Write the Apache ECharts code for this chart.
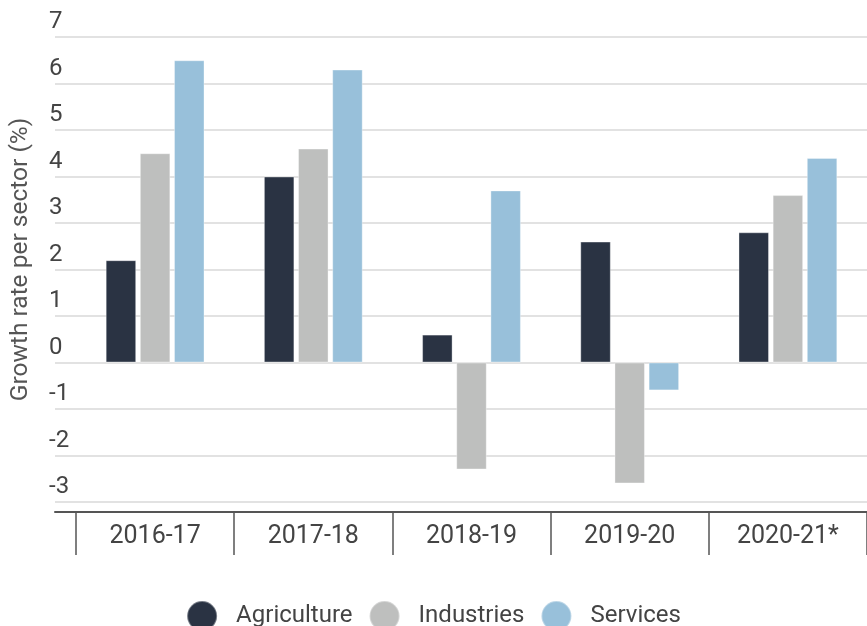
<!DOCTYPE html>
<html>
<head>
<meta charset="utf-8">
<script src="https://cdn.jsdelivr.net/npm/echarts@6/dist/echarts.min.js"></script>
<style>
  html, body { margin: 0; padding: 0; background: #ffffff; }
  #chart { width: 867px; height: 626px; }
</style>
</head>
<body>
<div id="chart"></div>
<script>
// Annual growth rate per sector, in percent
const years = ['2016-17', '2017-18', '2018-19', '2019-20', '2020-21*'];
const agriculture = [2.2, 4.0, 0.6, 2.6, 2.8];
const industries = [4.5, 4.6, -2.3, -2.6, 3.6];
const services = [6.5, 6.3, 3.7, -0.6, 4.4];
const yTicks = { min: -3, max: 7, step: 1 };

const FONT = 'Roboto, "Noto Sans", sans-serif';
const colors = { agriculture: '#2a3343', industries: '#bebfbe', services: '#98c0da' };

const chart = echarts.init(document.getElementById('chart'), null, { renderer: 'canvas' });

function barSeries(name, data, color) {
  return {
    name: name,
    type: 'bar',
    xAxisIndex: 1,
    yAxisIndex: 1,
    data: data,
    barWidth: 30.5,
    barGap: '12%',
    itemStyle: { color: color, borderColor: 'rgba(255,255,255,0.35)', borderWidth: 1 }
  };
}

chart.setOption({
  animation: false,
  textStyle: { fontFamily: FONT },
  legend: {
    data: ['Agriculture', 'Industries', 'Services'],
    bottom: -11,
    left: 'center',
    icon: 'circle',
    itemWidth: 30,
    itemHeight: 30,
    itemGap: 16,
    textStyle: { fontSize: 24, color: '#444', fontFamily: FONT, padding: [0, 0, 0, 14] }
  },
  grid: [
    // background grid: gridlines, tick labels and the baseline
    { left: 48, right: 0, top: 37, height: 465 },
    // bar grid
    { left: 76, width: 795, top: 37, height: 465 }
  ],
  xAxis: [
    {
      gridIndex: 0,
      type: 'value',
      min: 0,
      max: 1,
      position: 'bottom',
      offset: 10,
      axisLine: { show: true, onZero: false, lineStyle: { color: '#555', width: 2 } },
      axisTick: { show: false },
      axisLabel: { show: false },
      splitLine: { show: false }
    },
    {
      gridIndex: 1,
      type: 'category',
      data: years,
      position: 'bottom',
      offset: 10,
      axisLine: { show: false, onZero: false },
      axisTick: { show: true, length: 43, lineStyle: { color: '#555', width: 1.5 } },
      axisLabel: { fontSize: 25, color: '#444', margin: 12, fontFamily: FONT }
    }
  ],
  yAxis: [
    {
      gridIndex: 0,
      type: 'value',
      min: yTicks.min,
      max: yTicks.max,
      interval: yTicks.step,
      name: 'Growth rate per sector (%)',
      nameLocation: 'middle',
      nameRotate: 90,
      nameGap: 22,
      nameTextStyle: { fontSize: 24.5, color: '#555', fontFamily: FONT, padding: [0, 0, 0, 20] },
      axisLine: { show: false },
      axisTick: { show: false },
      axisLabel: {
        inside: true,
        margin: -6,
        fontSize: 24,
        color: '#444',
        fontFamily: FONT,
        verticalAlign: 'bottom',
        padding: [0, 0, 3, 0]
      },
      splitLine: { show: true, lineStyle: { color: '#e2e2e2', width: 2 } }
    },
    {
      gridIndex: 1,
      type: 'value',
      min: yTicks.min,
      max: yTicks.max,
      interval: yTicks.step,
      show: false,
      splitLine: { show: false }
    }
  ],
  series: [
    barSeries('Agriculture', agriculture, colors.agriculture),
    barSeries('Industries', industries, colors.industries),
    barSeries('Services', services, colors.services)
  ]
});
</script>
</body>
</html>
